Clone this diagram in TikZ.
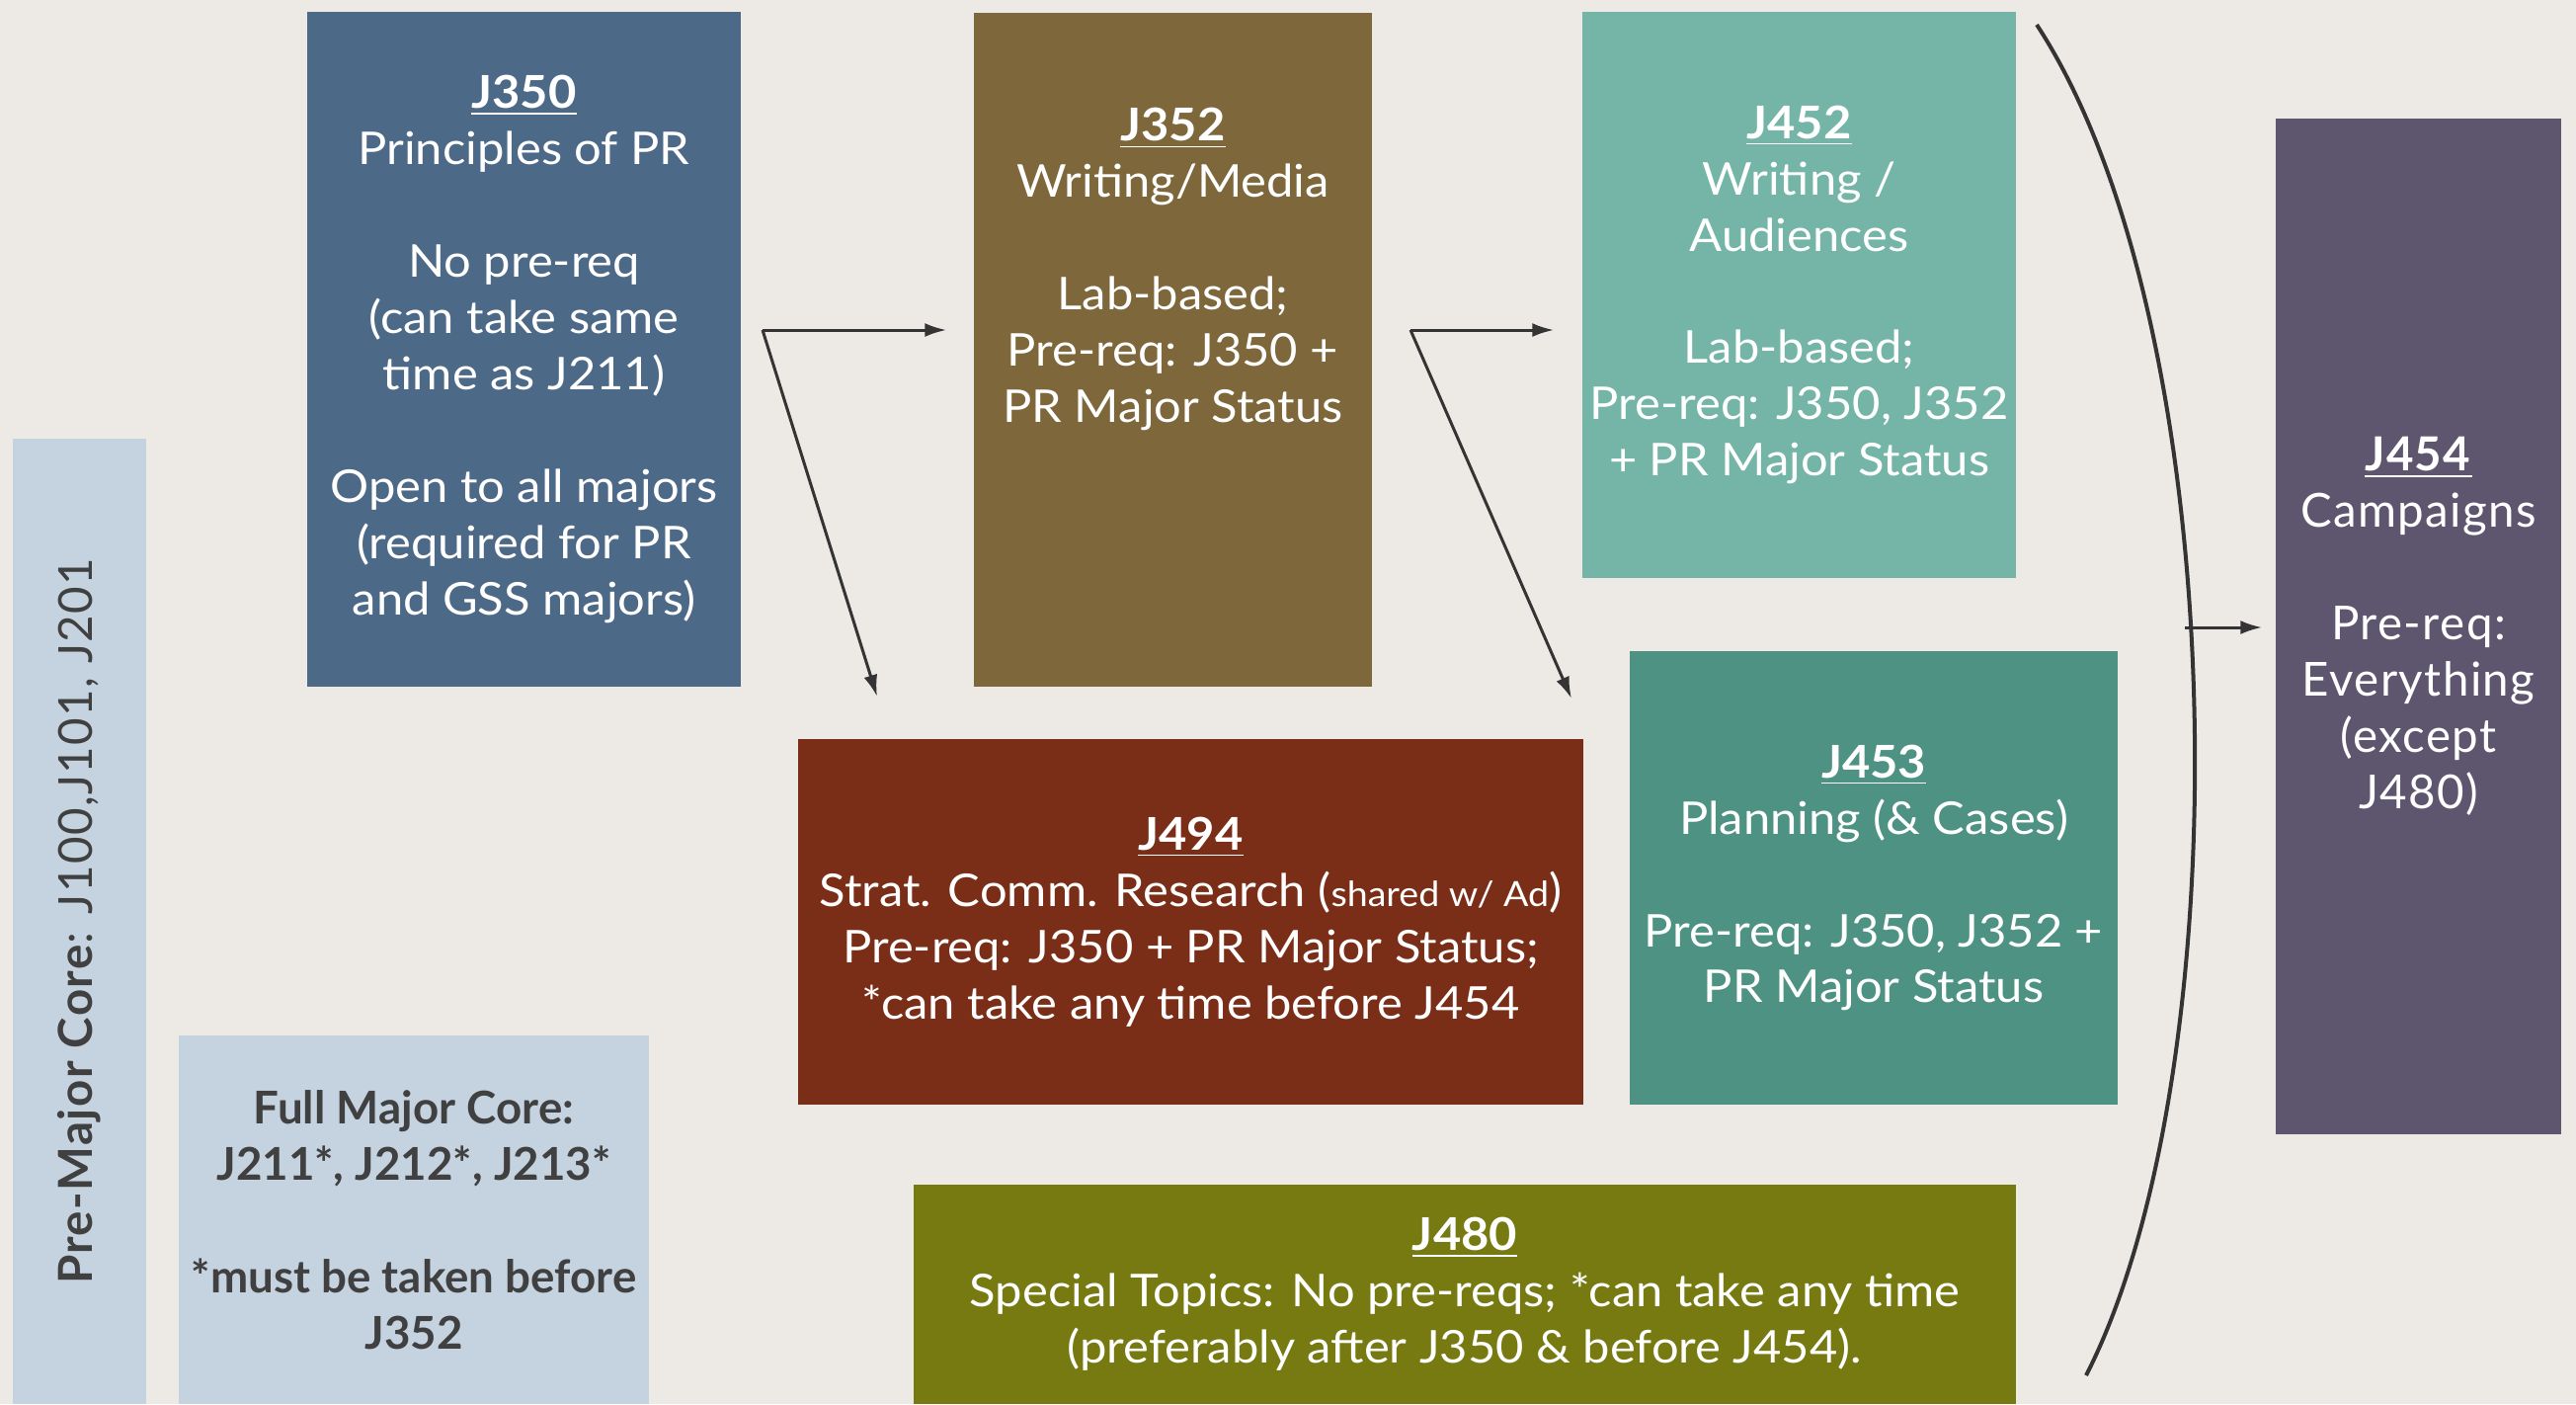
\documentclass[tikz,border=0pt]{standalone}
\usepackage{fontspec}
\setmainfont[FakeStretch=1.07]{Lato}
\newfontfamily\widefont[LetterSpace=3]{Lato}
\newfontfamily\corefont{Lato}
\usetikzlibrary{arrows.meta, positioning, calc}

\definecolor{paper}{RGB}{237,234,229}
\definecolor{coreblue}{RGB}{197,210,223}
\definecolor{coregray}{RGB}{64,64,64}
\definecolor{linkgray}{RGB}{52,52,52}
\definecolor{c350}{RGB}{77,105,136}
\definecolor{c352}{RGB}{125,103,59}
\definecolor{c452}{RGB}{116,181,167}
\definecolor{c453}{RGB}{77,146,131}
\definecolor{c494}{RGB}{123,46,23}
\definecolor{c480}{RGB}{118,122,17}
\definecolor{c454}{RGB}{94,86,111}

\newcommand{\coursecode}[1]{\underline{\textbf{#1}}}

\begin{document}
\begin{tikzpicture}[
    x=0.1mm, y=-0.1mm, % one unit is one pixel of the slide, y runs down
    >={Latex[length=2.2mm, width=1.4mm]},
    every node/.style={font={\fontsize{13}{16.2}\selectfont}},
    course/.style={rectangle, inner sep=0pt, align=center, text=white},
    wide/.style={font={\widefont\fontsize{13.5}{16.2}\selectfont}},
    core/.style={course, fill=coreblue, text=coregray},
    link/.style={->, draw=linkgray, line width=0.3mm},
  ]

  \fill[paper] (0,0) rectangle (2608,1421);
  \useasboundingbox (0,0) rectangle (2608,1421);

  % cores on the left
  \node[core, wide, rotate=90, minimum width=97.7mm, minimum height=13.5mm] (premajor) at (80.5,932.5)
    {\textbf{Pre-Major Core}: J100,J101, J201};
  \node[core, minimum width=47.6mm, minimum height=37.3mm, font={\corefont\bfseries\fontsize{13}{16.2}\selectfont}] (fullcore) at (419,1234.5) {%
    Full Major Core:\\
    J211*, J212*, J213*\\ ~\\
    *must be taken before\\
    J352
  };

  % courses
  \node[course, fill=c350, minimum width=43.9mm, minimum height=68.3mm] (j350) at (530.5,353.5) {%
    \coursecode{J350}\\ Principles of PR\\ ~\\
    No pre-req\\ (can take same\\ time as J211)\\ ~\\
    Open to all majors\\ (required for PR\\ and GSS majors)
  };
  \node[course, fill=c352, minimum width=40.3mm, minimum height=68.2mm] (j352) at (1187.5,354) {%
    \coursecode{J352}\\ Writing/Media\\ ~\\
    Lab-based;\\ Pre-req: J350 +\\ PR Major Status\\ ~\\ ~\\ ~
  };
  \node[course, fill=c452, minimum width=43.9mm, minimum height=57.3mm] (j452) at (1821.5,298.5) {%
    \coursecode{J452}\\ Writing /\\ Audiences\\ ~\\
    Lab-based;\\ Pre-req: J350, J352\\ + PR Major Status
  };
  \node[course, fill=c453, minimum width=49.4mm, minimum height=45.9mm] (j453) at (1897,888.5) {%
    \coursecode{J453}\\ Planning (\& Cases)\\ ~\\
    Pre-req: J350, J352 +\\ PR Major Status
  };
  \node[course, fill=c494, minimum width=79.5mm, minimum height=37mm] (j494) at (1205.5,933) {%
    \coursecode{J494}\\
    Strat. Comm. Research ({\fontsize{10}{12}\selectfont shared w/ Ad})\\
    Pre-req: J350 + PR Major Status;\\
    *can take any time before J454
  };
  \node[course, fill=c480, minimum width=111.6mm, minimum height=22.2mm] (j480) at (1483,1310) {%
    \coursecode{J480}\\
    Special Topics: No pre-reqs; *can take any time\\
    (preferably after J350 \& before J454).
  };
  \node[course, wide, fill=c454, minimum width=28.9mm, minimum height=102.8mm] (j454) at (2448.5,634) {%
    \coursecode{J454}\\ Campaigns\\ ~\\
    Pre-req:\\ Everything\\ (except\\ J480)
  };

  % arrows out of J350 and J352
  \coordinate (fork1) at (772,334);
  \coordinate (tip494) at (888,705);
  \draw[link, shorten >=2.7mm] (fork1) -- (j352.west |- fork1);
  \draw[link] (fork1) -- (tip494);

  \coordinate (fork2) at (1428,334);
  \coordinate (tip453) at (1591,707);
  \draw[link, shorten >=2.8mm] (fork2) -- (j452.west |- fork2);
  \draw[link] (fork2) -- (tip453);

  % bracket gathering everything into J454
  \coordinate (arctop) at (2062,25);
  \coordinate (arcbot) at (2112,1392);
  \draw[linkgray, line width=0.4mm] (arctop) .. controls (2262,330) and (2270,1083) .. (arcbot);
  \coordinate (fan) at (2212,635);
  \draw[link, shorten >=1.3mm] (fan) -- (j454.west |- fan);

\end{tikzpicture}
\end{document}
